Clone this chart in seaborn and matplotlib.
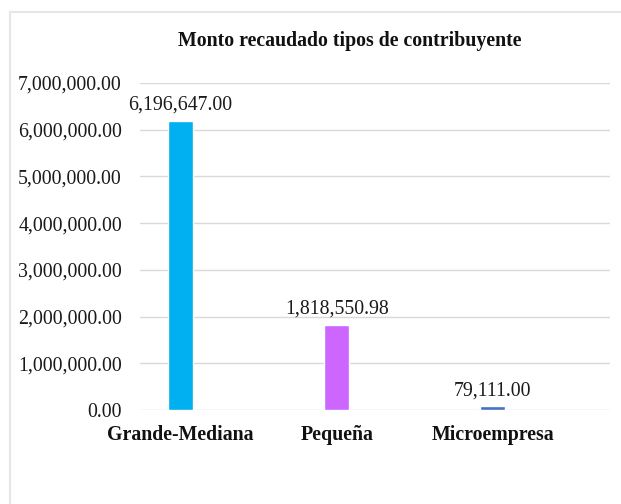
import matplotlib
matplotlib.use('Agg')
import matplotlib.pyplot as plt
import seaborn as sns
import pandas as pd
from matplotlib.patches import Rectangle
from matplotlib.ticker import FuncFormatter

categorias = ['Grande-Mediana', 'Pequeña', 'Microempresa']
montos = [6196647.00, 1818550.98, 79111.00]
colores = ['#00B0F0', '#CC66FF', '#4472C4']

df = pd.DataFrame({'tipo': categorias, 'monto': montos})

sns.set_style('white')
plt.rcParams['font.family'] = ['Liberation Serif', 'DejaVu Serif']

W, H = 621, 504
fig = plt.figure(figsize=(W / 100, H / 100), dpi=100)
ax = fig.add_axes([140/W, 1 - 410/H, 470/W, 327/H])

# marco gris del grafico
fig.patches.append(Rectangle((10/W, -0.05), 1, 1.05 - 12/H, transform=fig.transFigure,
                             fill=False, edgecolor='#E6E6E6', linewidth=1.5))

sns.barplot(data=df, x='tipo', y='monto', hue='tipo', palette=colores,
            width=0.16, legend=False, ax=ax, saturation=1)

for i, v in enumerate(montos):
    ax.annotate('{:,.2f}'.format(v), (i, v), xytext=(0, 8), textcoords='offset points',
                ha='center', va='baseline', fontsize=14.3, color='#1a1a1a')

ax.set_ylim(0, 7000000)
ax.set_xlim(-0.259, 2.749)
ax.set_yticks(range(0, 7000001, 1000000))
ax.yaxis.set_major_formatter(FuncFormatter(lambda x, p: '{:,.2f}'.format(x)))
ax.grid(axis='y', color='#D9D9D9', linewidth=1)
ax.set_axisbelow(True)
for s in ax.spines.values():
    s.set_visible(False)
ax.tick_params(axis='y', length=0, pad=13, labelsize=14.3, labelcolor='#1a1a1a')
ax.tick_params(axis='x', length=0, pad=11, labelsize=14.3, labelcolor='#111111')
for t in ax.get_xticklabels():
    t.set_fontweight('bold')
ax.set_xlabel('')
ax.set_ylabel('')

fig.text(349.5/W, 1 - 46/H, 'Monto recaudado tipos de contribuyente', ha='center',
         va='baseline', fontsize=14.3, fontweight='bold', color='#111111')

fig.savefig('out.png', dpi=100)
